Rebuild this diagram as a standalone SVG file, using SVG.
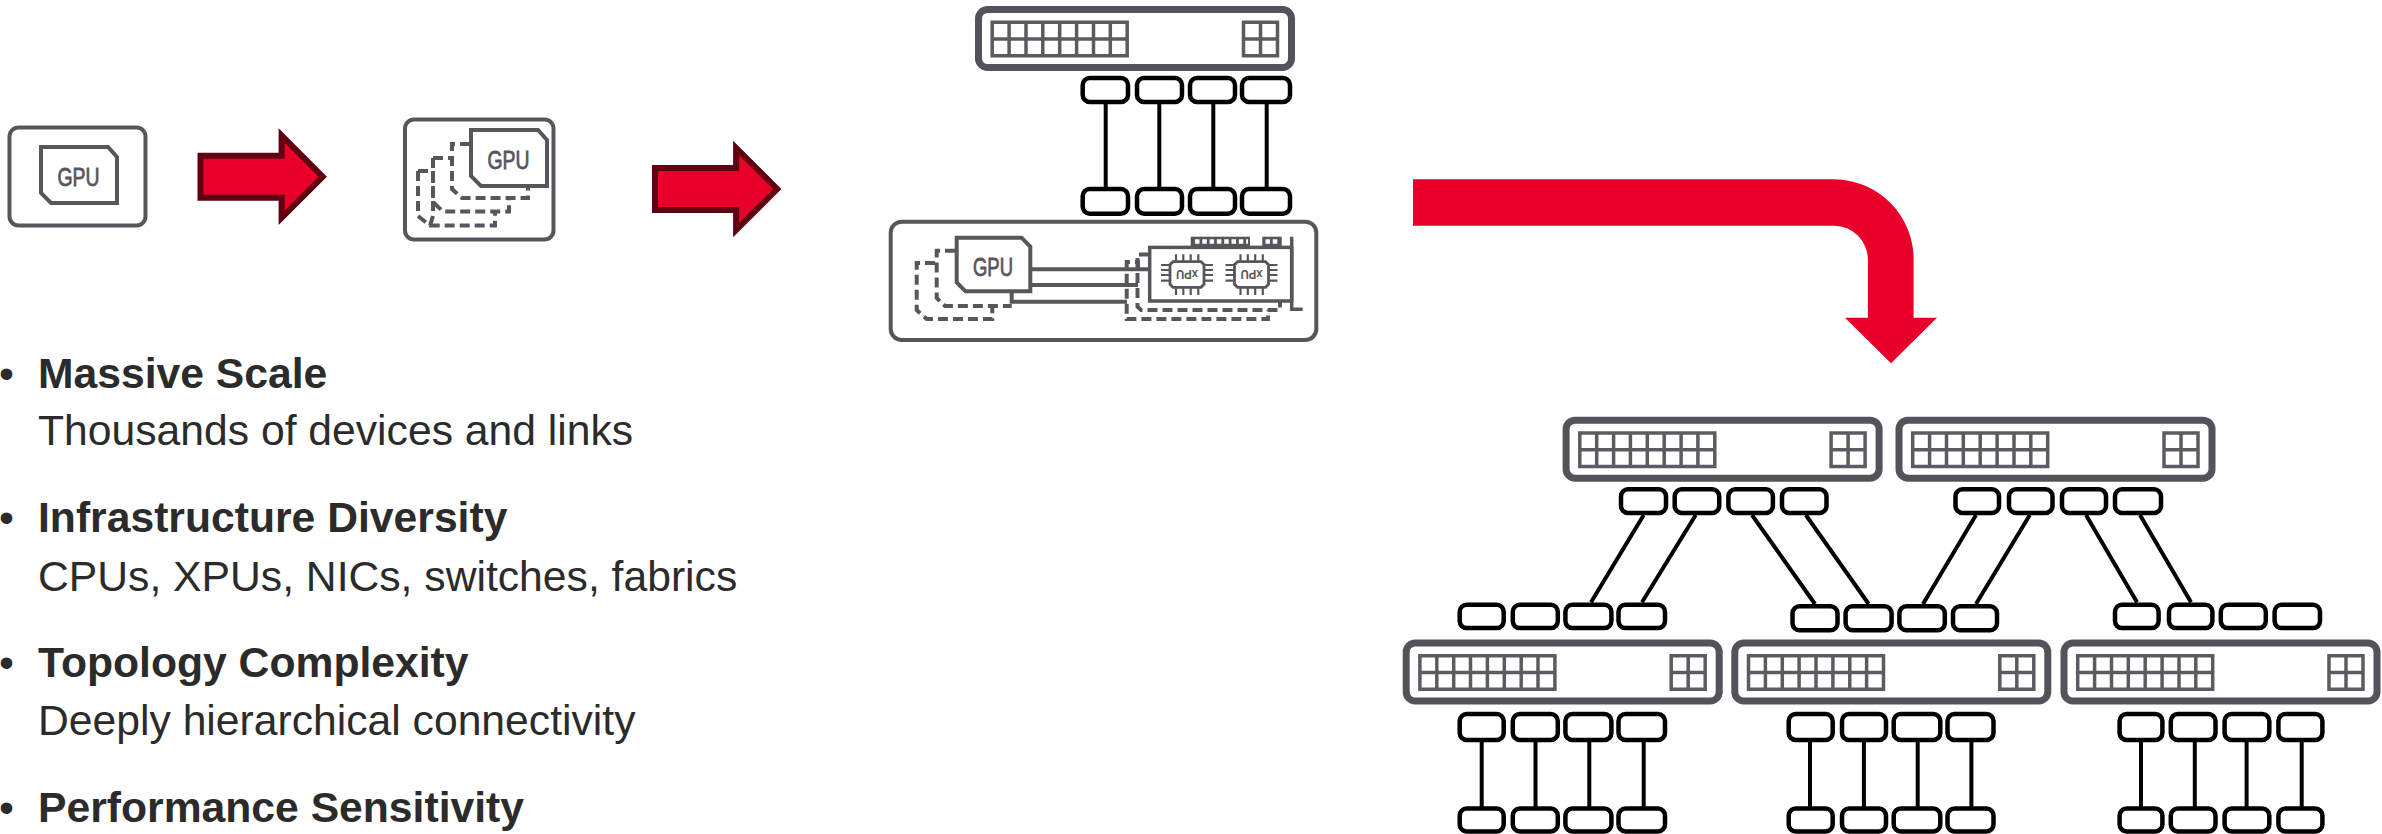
<svg xmlns="http://www.w3.org/2000/svg" width="2382" height="834" viewBox="0 0 2382 834">
<style>
.bg{fill:#fff}
.box{fill:#fff;stroke:#58565c;stroke-width:4}
.sw{fill:#fff;stroke:#55525a;stroke-width:7}
.grid{fill:#fff;stroke:#5d5a61;stroke-width:3.5}
.chip{fill:#fff;stroke:#58565c;stroke-width:4}
.ln{fill:none;stroke:#58565c;stroke-width:4}
.thin{fill:none;stroke:#58565c;stroke-width:2.200}
.dash{fill:none;stroke:#58565c;stroke-width:4;stroke-dasharray:10 5}
.port{fill:#fff;stroke:#000;stroke-width:4.500}
.link{fill:none;stroke:#000;stroke-width:4}
.gpu{font-family:"Liberation Sans",Arial,sans-serif;font-size:25px;fill:#58565c;stroke:#58565c;stroke-width:.8;text-anchor:middle}
.xpu{font-family:"Liberation Sans",Arial,sans-serif;font-size:12.500px;font-weight:bold;fill:#58565c;text-anchor:middle}
.red{fill:#e8002a}
.arrow{fill:#e8002a;stroke:#600010;stroke-width:6;stroke-miterlimit:6}
.h{font-family:"Liberation Sans",Arial,sans-serif;font-size:42.670px;font-weight:bold;fill:#2b2b2b}
.t{font-family:"Liberation Sans",Arial,sans-serif;font-size:42.670px;fill:#2b2b2b}
.b{font-family:"Liberation Sans",Arial,sans-serif;font-size:42.670px;fill:#2b2b2b}
.cells{fill:none;stroke:#fff;stroke-width:4.500;stroke-dasharray:4.500 2.800}
.cardport{fill:#58565c}
</style>
<defs>
<g id="switch">
<rect class="sw" x="3.5" y="3.5" width="313" height="58" rx="9"/>
<path class="grid" d="M17.2 16.2h135v33.6h-135zM17.2 33h135M34.1 16.2v33.6M51 16.2v33.6M67.8 16.2v33.6M84.7 16.2v33.6M101.6 16.2v33.6M118.5 16.2v33.6M135.3 16.2v33.6"/>
<path class="grid" d="M268.5 16.2h34v33.6h-34zM268.5 33h34M285.5 16.2v33.6"/>
</g>
<g id="redarrow">
<polygon class="arrow" points="200.5,155.7 281.6,155.7 281.6,135.6 322.7,176.7 281.6,217.8 281.6,197.7 200.5,197.7"/>
</g>
<g id="soc">
<path class="thin" d="M1176 254.3v7.4M1183.3 254.3v7.4M1190.7 254.3v7.4M1198.3 254.3v7.4M1176 287.3v7.7M1183.3 287.3v7.7M1190.7 287.3v7.7M1198.3 287.3v7.7M1161 265h9M1161 270h9M1161 275h9M1161 280.7h9M1204 265h9M1204 270h9M1204 275h9M1204 280.7h9"/>
<path class="chip" style="stroke-width:2.800" d="M1173 261.7h28l3 3v19.6l-3 3h-28l-3-3v-19.6z"/>
</g>
</defs>
<rect class="bg" width="2382" height="834"/>

<g id="connectors">
<path class="link" d="M1105.7 104V187M1159.3 104V187M1213.3 104V187M1266.7 104V187"/>
<path class="link" d="M1643.7 515L1591 602.3M1695.7 515L1642 602.3M1752 515L1815 604M1805.8 515L1868.7 604M1976 515L1923 604M2029.8 515L1976 604M2086 515L2137 602.3M2140 515L2191 602.3"/>
<path class="link" d="M1481.7 741V807M1535.5 741V807M1589.3 741V807M1643.7 741V807M1810 741V807M1863.9 741V807M1917.7 741V807M1971.4 741V807M2141 741V807M2194.8 741V807M2246.6 741V807M2301.7 741V807"/>
</g>

<g id="gpu-single">
<rect class="box" x="9.5" y="127.5" width="136" height="98" rx="9"/>
<path class="chip" d="M41 147H108L117 157V203H51L41 193Z"/>
<text class="gpu" x="78.5" y="186" textLength="42" lengthAdjust="spacingAndGlyphs">GPU</text>
</g>

<g id="arrow-1"><use href="#redarrow"/></g>

<g id="gpu-multi">
<rect class="box" x="405" y="119.5" width="148.5" height="120" rx="9"/>
<path class="dash" d="M418 171H433V216L430 225.500M418 171V216L430 225.500H495V211.500"/>
<path class="dash" d="M433 158H452M433 158V202L443 211.500H509V198"/>
<path class="dash" d="M470 144H452V189L462 198H528V187"/>
<path class="chip" d="M471 130H538L547 140V186H481L471 176Z"/>
<text class="gpu" x="508.500" y="169" textLength="42" lengthAdjust="spacingAndGlyphs">GPU</text>
</g>

<g id="arrow-2"><use href="#redarrow" transform="translate(454.5 12.3)"/></g>

<g id="switch-top">
<use href="#switch" transform="translate(975 6)"/>
<rect class="port" x="1082.7" y="78" width="45.3" height="24" rx="7"/>
<rect class="port" x="1137" y="78" width="45" height="24" rx="7"/>
<rect class="port" x="1190" y="78" width="45" height="24" rx="7"/>
<rect class="port" x="1242" y="78" width="48" height="24" rx="7"/>
<rect class="port" x="1082.7" y="189" width="45.3" height="24.700" rx="7"/>
<rect class="port" x="1137" y="189" width="45" height="24.700" rx="7"/>
<rect class="port" x="1190" y="189" width="45" height="24.700" rx="7"/>
<rect class="port" x="1242" y="189" width="48" height="24.700" rx="7"/>
</g>

<g id="server">
<rect class="box" x="890.700" y="221.700" width="425.600" height="118.300" rx="11"/>
<path class="dash" d="M955 250.700H936.700V298L945 306H1011.700"/>
<path class="dash" d="M935 263H916.700V310L926.700 319H992.300V306"/>
<path class="ln" d="M1011.700 293V301.700H1127M1032 269.300H1149M1032 285H1138"/>
<path class="chip" d="M956.700 237.700H1021.500L1030.300 246.500V291.300H965.500L956.700 282.500Z"/>
<text class="gpu" x="993" y="276" textLength="40" lengthAdjust="spacingAndGlyphs">GPU</text>
<path class="dash" d="M1149 254.500H1137.500V306.700L1141 310H1280V302"/>
<path class="dash" d="M1138 269V262H1126.700V319H1268V310"/>
<rect class="cardport" x="1190.700" y="236.700" width="59.300" height="10"/>
<rect class="cardport" x="1262.300" y="236.700" width="19.400" height="10"/>
<path class="cells" d="M1195 241.500H1248"/>
<path class="cells" d="M1265.500 241.500H1280"/>
<rect class="chip" style="stroke-width:3.500" x="1149.700" y="247.400" width="142" height="53.600"/>
<path class="ln" style="stroke-width:3.500" d="M1291.700 236.700V309.300H1302.700"/>
<g id="xpu-1"><use href="#soc"/><text class="xpu" x="1187" y="274.500" textLength="22" lengthAdjust="spacingAndGlyphs" transform="rotate(180 1187 274.500) translate(0 4.500)">xPU</text></g>
<g id="xpu-2"><use href="#soc" transform="translate(64.500 0)"/><text class="xpu" x="1251.500" y="274.500" textLength="22" lengthAdjust="spacingAndGlyphs" transform="rotate(180 1251.500 274.500) translate(0 4.500)">xPU</text></g>
</g>

<g id="arrow-3">
<path class="red" d="M1413 179.300H1834A80 80 0 0 1 1913.600 260V317.700H1937L1891 363.300L1845 317.700H1867.900V260A34 34 0 0 0 1834 225.700H1413Z"/>
</g>

<g id="spine-1">
<use href="#switch" transform="translate(1562.600 416.700)"/>
<rect class="port" x="1621" y="489.300" width="45" height="23.700" rx="7"/>
<rect class="port" x="1674.700" y="489.300" width="44.500" height="23.700" rx="7"/>
<rect class="port" x="1728.400" y="489.300" width="44.500" height="23.700" rx="7"/>
<rect class="port" x="1782" y="489.300" width="44.500" height="23.700" rx="7"/>
</g>
<g id="spine-2">
<use href="#switch" transform="translate(1895.500 416.700)"/>
<rect class="port" x="1955.500" y="489.300" width="43.500" height="23.700" rx="7"/>
<rect class="port" x="2009" y="489.300" width="43.500" height="23.700" rx="7"/>
<rect class="port" x="2062" y="489.300" width="44" height="23.700" rx="7"/>
<rect class="port" x="2115" y="489.300" width="46" height="23.700" rx="7"/>
</g>

<g id="leaf-1">
<use href="#switch" transform="translate(1402.700 639.500)"/>
<rect class="port" x="1459.700" y="604.700" width="44" height="23.400" rx="7"/>
<rect class="port" x="1512.800" y="604.700" width="45" height="23.400" rx="7"/>
<rect class="port" x="1565.400" y="604.700" width="46" height="23.400" rx="7"/>
<rect class="port" x="1618.500" y="604.700" width="46.500" height="23.400" rx="7"/>
<rect class="port" x="1459.700" y="714" width="44" height="26" rx="7"/>
<rect class="port" x="1512.800" y="714" width="45" height="26" rx="7"/>
<rect class="port" x="1565.400" y="714" width="46" height="26" rx="7"/>
<rect class="port" x="1618.500" y="714" width="46.500" height="26" rx="7"/>
<rect class="port" x="1459.700" y="808.500" width="44" height="23" rx="7"/>
<rect class="port" x="1512.800" y="808.500" width="45" height="23" rx="7"/>
<rect class="port" x="1565.400" y="808.500" width="46" height="23" rx="7"/>
<rect class="port" x="1618.500" y="808.500" width="46.500" height="23" rx="7"/>
</g>
<g id="leaf-2">
<use href="#switch" transform="translate(1731.300 639.500)"/>
<rect class="port" x="1792.500" y="606.300" width="45" height="24" rx="7"/>
<rect class="port" x="1845.600" y="606.300" width="46" height="24" rx="7"/>
<rect class="port" x="1899.400" y="606.300" width="45.400" height="24" rx="7"/>
<rect class="port" x="1953" y="606.300" width="44" height="24" rx="7"/>
<rect class="port" x="1788.700" y="714" width="44" height="26" rx="7"/>
<rect class="port" x="1842" y="714" width="44" height="26" rx="7"/>
<rect class="port" x="1893.700" y="714" width="46.600" height="26" rx="7"/>
<rect class="port" x="1947.500" y="714" width="46" height="26" rx="7"/>
<rect class="port" x="1788.700" y="808.500" width="44" height="23" rx="7"/>
<rect class="port" x="1842" y="808.500" width="44" height="23" rx="7"/>
<rect class="port" x="1893.700" y="808.500" width="46.600" height="23" rx="7"/>
<rect class="port" x="1947.500" y="808.500" width="46" height="23" rx="7"/>
</g>
<g id="leaf-3">
<use href="#switch" transform="translate(2060.500 639.500)"/>
<rect class="port" x="2115" y="604.700" width="43.600" height="23.400" rx="7"/>
<rect class="port" x="2169" y="604.700" width="43.400" height="23.400" rx="7"/>
<rect class="port" x="2220.800" y="604.700" width="45" height="23.400" rx="7"/>
<rect class="port" x="2274.600" y="604.700" width="45.400" height="23.400" rx="7"/>
<rect class="port" x="2119.600" y="714" width="42.800" height="26" rx="7"/>
<rect class="port" x="2170.800" y="714" width="44.700" height="26" rx="7"/>
<rect class="port" x="2224.600" y="714" width="44.700" height="26" rx="7"/>
<rect class="port" x="2278.400" y="714" width="44" height="26" rx="7"/>
<rect class="port" x="2119.600" y="808.500" width="42.800" height="23" rx="7"/>
<rect class="port" x="2170.800" y="808.500" width="44.700" height="23" rx="7"/>
<rect class="port" x="2224.600" y="808.500" width="44.700" height="23" rx="7"/>
<rect class="port" x="2278.400" y="808.500" width="44" height="23" rx="7"/>
</g>

<g id="bullets">
<text class="b" x="-1" y="387.500">•</text>
<text class="h" x="38" y="387.500">Massive Scale</text>
<text class="t" x="38" y="444.500">Thousands of devices and links</text>
<text class="b" x="-1" y="531.500">•</text>
<text class="h" x="38" y="531.500">Infrastructure Diversity</text>
<text class="t" x="38" y="590.500">CPUs, XPUs, NICs, switches, fabrics</text>
<text class="b" x="-1" y="677">•</text>
<text class="h" x="38" y="677">Topology Complexity</text>
<text class="t" x="38" y="734.500">Deeply hierarchical connectivity</text>
<text class="b" x="-1" y="821.500">•</text>
<text class="h" x="38" y="821.500">Performance Sensitivity</text>
</g>
</svg>
